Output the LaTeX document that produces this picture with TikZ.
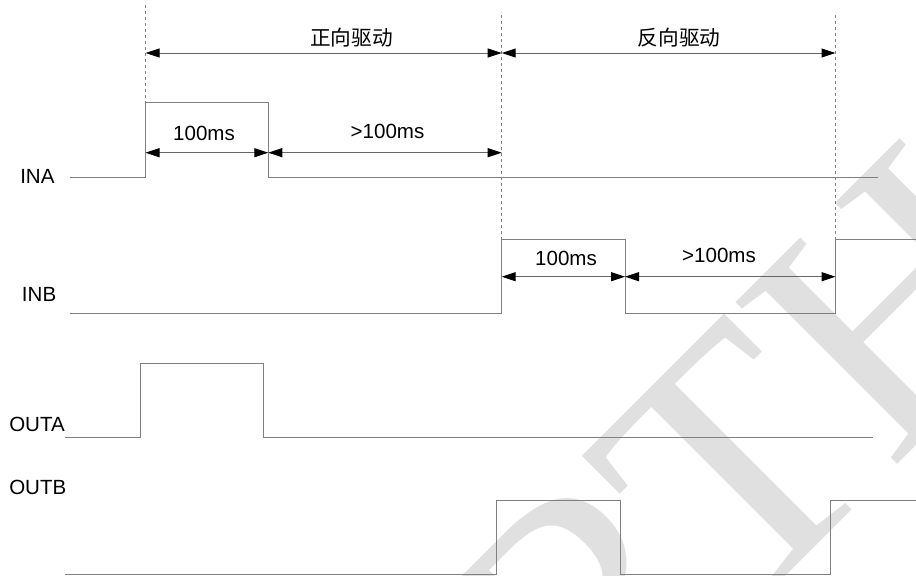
\documentclass[tikz,border=0pt]{standalone}
\usepackage{fontspec}
\setmainfont{Liberation Sans}
\newfontfamily\cjk{Noto Sans CJK SC}
\newfontfamily\wmfont{Liberation Serif}
\usetikzlibrary{arrows.meta}

\begin{document}
\begin{tikzpicture}[x=0.75pt, y=-0.75pt,
  signal/.style={draw=black!50, line width=0.75pt},
  guide/.style={draw=black!50, line width=0.6pt, dash pattern=on 2.25pt off 2.25pt},
  span/.style={draw=black!60, line width=0.75pt,
    {Triangle[length=10.5pt,width=6.75pt,black]}-{Triangle[length=10.5pt,width=6.75pt,black]}},
  sigtag/.style={font=\fontsize{15.4}{18}\selectfont, anchor=west, inner sep=0pt},
  dimtext/.style={font=\fontsize{15.4}{18}\selectfont, inner sep=0pt},
  phase/.style={font=\cjk\fontsize{15.5}{18}\selectfont, inner sep=0pt},
  wmark/.style={font=\wmfont\fontsize{262}{262}\selectfont, text=black!12, rotate=45, inner sep=0pt}]
  \useasboundingbox (0,0) rectangle (916,575);
  \node[wmark] (wm) at (748,452) {RTH};

  \coordinate (t0) at (145.5,0);
  \coordinate (t1) at (268.3,0);
  \coordinate (t2) at (501.7,0);
  \coordinate (t3) at (625,0);
  \coordinate (t4) at (835.5,0);

  \node[sigtag] (ina) at (20,176) {INA};
  \node[sigtag] (inb) at (21.7,294) {INB};
  \node[sigtag] (outa) at (9,424) {OUTA};
  \node[sigtag] (outb) at (9,487.5) {OUTB};

  \draw[signal] (70,177.3) -- (t0 |- 0,177.3) -- (t0 |- 0,102.7) -- (t1 |- 0,102.7)
    -- (t1 |- 0,177.3) -- (877.5,177.3);
  \draw[signal] (70,313.3) -- (t2 |- 0,313.3) -- (t2 |- 0,239.3) -- (t3 |- 0,239.3)
    -- (t3 |- 0,313.3) -- (t4 |- 0,313.3) -- (t4 |- 0,239.3) -- (916,239.3);
  \draw[signal] (65,437.3) -- (140,437.3) -- (140,363.3) -- (263.3,363.3)
    -- (263.3,437.3) -- (873.3,437.3);
  \draw[signal] (65,574.2) -- (496,574.2) -- (496,500) -- (620.3,500)
    -- (620.3,574.2) -- (830.7,574.2) -- (830.7,500) -- (916,500);

  \draw[guide] (t0 |- 0,5) -- (t0 |- 0,102.7);
  \draw[guide] (t2 |- 0,15) -- (t2 |- 0,239.3);
  \draw[guide] (t4 |- 0,15) -- (t4 |- 0,239.3);

  \draw[span] (t0 |- 0,53) -- (t2 |- 0,53);
  \draw[span] (t2 |- 0,53) -- (t4 |- 0,53);
  \draw[span] (t0 |- 0,152.7) -- (t1 |- 0,152.7);
  \draw[span] (t1 |- 0,152.7) -- (t2 |- 0,152.7);
  \draw[span] (t2 |- 0,276.7) -- (t3 |- 0,276.7);
  \draw[span] (t3 |- 0,276.7) -- (t4 |- 0,276.7);

  \node[phase] (fwd) at (351.5,38) {正向驱动};
  \node[phase] (rev) at (679,38) {反向驱动};
  \node[dimtext] (ina1) at (204,133) {100ms};
  \node[dimtext] (ina2) at (387.5,131.7) {>100ms};
  \node[dimtext] (inb1) at (566,258) {100ms};
  \node[dimtext] (inb2) at (719,255) {>100ms};
\end{tikzpicture}
\end{document}
